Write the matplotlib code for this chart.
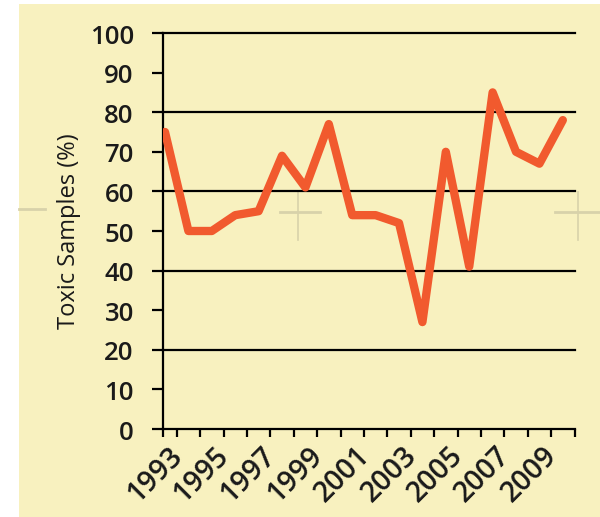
import matplotlib
matplotlib.use("Agg")
import matplotlib.pyplot as plt
from matplotlib.patches import Rectangle
from matplotlib.transforms import ScaledTranslation

years = [1993, 1994, 1995, 1996, 1997, 1998, 1999, 2000, 2001, 2002,
         2003, 2004, 2005, 2006, 2007, 2008, 2009, 2010]
toxic_pct = [75, 50, 50, 54, 55, 69, 61, 77, 54, 54,
             52, 27, 70, 41, 85, 70, 67, 78]
label_years = [1993, 1995, 1997, 1999, 2001, 2003, 2005, 2007, 2009]
y_ticks = [0, 10, 20, 30, 40, 50, 60, 70, 80, 90, 100]
grid_levels = [20, 40, 60, 80, 100]

W, H = 600, 517
fig = plt.figure(figsize=(W / 100, H / 100), dpi=100)
fig.patch.set_facecolor("white")

# background paper (pixel coordinates, y downward)
bg = fig.add_axes([0, 0, 1, 1], zorder=-1)
bg.set_xlim(0, W)
bg.set_ylim(H, 0)
bg.axis("off")
paper = "#F8F1BF"
bg.add_patch(Rectangle((19, 4), W - 19, H - 4, facecolor=paper, edgecolor="none"))
mark = "#D8D2AA"
for (xa, xb, y) in [(19, 45, 209), (280, 320, 212), (555, 600, 212)]:
    bg.plot([xa, xb], [y, y], color=mark, lw=2)
for (x, ya, yb) in [(298, 192, 240), (578, 192, 240)]:
    bg.plot([x, x], [ya, yb], color=mark, lw=1.2)

left, right, top, bottom = 163, 575, 33, 429
ax = fig.add_axes([left / W, 1 - bottom / H, (right - left) / W, (bottom - top) / H],
                  zorder=2)
ax.set_facecolor("none")

x0 = 1993 - (165 - left) / 23.4
ax.set_xlim(x0, 2010.52)
ax.set_ylim(0, 100)

for g in grid_levels:
    ax.axhline(g, color="black", lw=1.6, zorder=2, clip_on=False)

ax.plot(years, toxic_pct, color="#F15A2E", lw=6, solid_joinstyle="round",
        solid_capstyle="round", zorder=3)

for s in ["top", "right"]:
    ax.spines[s].set_visible(False)
for s in ["left", "bottom"]:
    ax.spines[s].set_linewidth(1.6)
    ax.spines[s].set_color("black")

tick_font = ["Open Sans", "DejaVu Sans"]
ink = "#1A1A1A"
ax.set_yticks(y_ticks)
ax.set_yticklabels([str(v) for v in y_ticks], fontsize=18.5, family=tick_font,
                   fontweight="semibold", color=ink)
ax.tick_params(axis="y", direction="out", length=8, width=1.6, pad=13)
for t in ax.get_yticklabels():
    t.set_transform(t.get_transform() + ScaledTranslation(0, -1 / 100, fig.dpi_scale_trans))

ax.set_xticks(label_years)
ax.set_xticklabels([str(v) for v in label_years], fontsize=20.5, family=tick_font,
                   fontweight="semibold", color=ink,
                   rotation=45, ha="right", va="top", rotation_mode="anchor")
ax.tick_params(axis="x", which="major", length=0, pad=9)
for t in ax.get_xticklabels():
    t.set_transform(t.get_transform() + ScaledTranslation(3 / 100, 0, fig.dpi_scale_trans))
minor = [x0] + [y + 0.5 for y in years]
ax.set_xticks(minor, minor=True)
ax.tick_params(axis="x", which="minor", direction="out", length=6, width=1.6)

ax.set_ylabel("Toxic Samples (%)", fontsize=17, family=tick_font, color=ink, labelpad=6)

fig.savefig("out.png", dpi=100, facecolor=fig.get_facecolor())
